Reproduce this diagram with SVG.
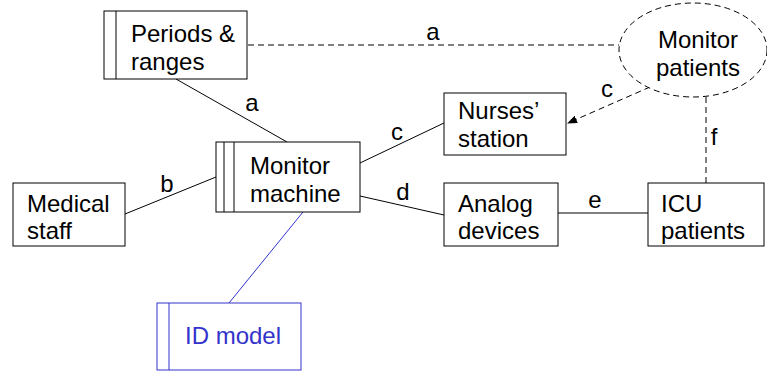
<svg xmlns="http://www.w3.org/2000/svg" width="767" height="371" viewBox="0 0 767 371">
  <defs>
    <style>
      text { font-family: "Liberation Sans", Arial, sans-serif; font-size: 24px; fill: #000; }
      .box { fill: #fff; stroke: #000; stroke-width: 1; }
      .line { stroke: #000; stroke-width: 1; fill: none; }
      .dash { stroke: #000; stroke-width: 1; fill: none; stroke-dasharray: 6 4; }
      .blue { stroke: #3333cc; }
      text.blue { fill: #3333cc; stroke: none; }
      .lbl { text-anchor: middle; }
    </style>
    <marker id="arrow" viewBox="0 0 10 10" refX="9" refY="5" markerWidth="10" markerHeight="10" markerUnits="userSpaceOnUse" orient="auto">
      <path d="M0,1 L10,5 L0,9 Z" fill="#000"/>
    </marker>
  </defs>
  <rect width="767" height="371" fill="#fff"/>

  <g id="connectors">
    <line class="dash" x1="248" y1="45" x2="619" y2="45"/>
    <text class="lbl" x="433" y="40">a</text>
    <line class="line" x1="176" y1="79" x2="287" y2="142"/>
    <text class="lbl" x="252" y="111">a</text>
    <line class="line" x1="125" y1="214" x2="216" y2="177"/>
    <text class="lbl" x="167" y="192">b</text>
    <line class="line" x1="360" y1="163" x2="444" y2="123"/>
    <text class="lbl" x="397" y="140">c</text>
    <line class="line" x1="360" y1="196" x2="444" y2="215"/>
    <text class="lbl" x="403" y="200">d</text>
    <line class="line" x1="558" y1="213" x2="648" y2="213"/>
    <text class="lbl" x="595" y="208">e</text>
    <line class="dash" x1="650" y1="87" x2="568" y2="123" marker-end="url(#arrow)"/>
    <text class="lbl" x="607" y="97">c</text>
    <line class="dash" x1="706" y1="97" x2="706" y2="183"/>
    <text class="lbl" x="714" y="145">f</text>
    <line class="line blue" x1="303" y1="212" x2="229" y2="303"/>
  </g>

  <g id="periods-ranges">
    <rect class="box" x="104" y="11" width="143" height="68"/>
    <line class="line" x1="116" y1="11" x2="116" y2="79"/>
    <text x="131" y="42">Periods &amp;</text>
    <text x="131" y="70">ranges</text>
  </g>

  <g id="monitor-patients">
    <ellipse cx="693" cy="50" rx="74" ry="47" fill="#fff" stroke="#000" stroke-width="1" stroke-dasharray="6 4"/>
    <text class="lbl" x="698" y="48">Monitor</text>
    <text class="lbl" x="698" y="76">patients</text>
  </g>

  <g id="nurses-station">
    <rect class="box" x="444" y="93" width="122" height="62"/>
    <text x="458" y="119">Nurses’</text>
    <text x="458" y="147">station</text>
  </g>

  <g id="monitor-machine">
    <rect class="box" x="216" y="142" width="144" height="70"/>
    <line class="line" x1="224" y1="142" x2="224" y2="212"/>
    <line class="line" x1="234" y1="142" x2="234" y2="212"/>
    <text x="250" y="174">Monitor</text>
    <text x="250" y="202">machine</text>
  </g>

  <g id="medical-staff">
    <rect class="box" x="13" y="183" width="112" height="63"/>
    <text x="27" y="212">Medical</text>
    <text x="27" y="239">staff</text>
  </g>

  <g id="analog-devices">
    <rect class="box" x="444" y="183" width="114" height="63"/>
    <text x="458" y="212">Analog</text>
    <text x="458" y="239">devices</text>
  </g>

  <g id="icu-patients">
    <rect class="box" x="648" y="183" width="116" height="63"/>
    <text x="661" y="212">ICU</text>
    <text x="661" y="239">patients</text>
  </g>

  <g id="id-model">
    <rect class="box blue" x="157" y="303" width="144" height="67"/>
    <line class="line blue" x1="169" y1="303" x2="169" y2="370"/>
    <text class="blue" x="185" y="344">ID model</text>
  </g>
</svg>
